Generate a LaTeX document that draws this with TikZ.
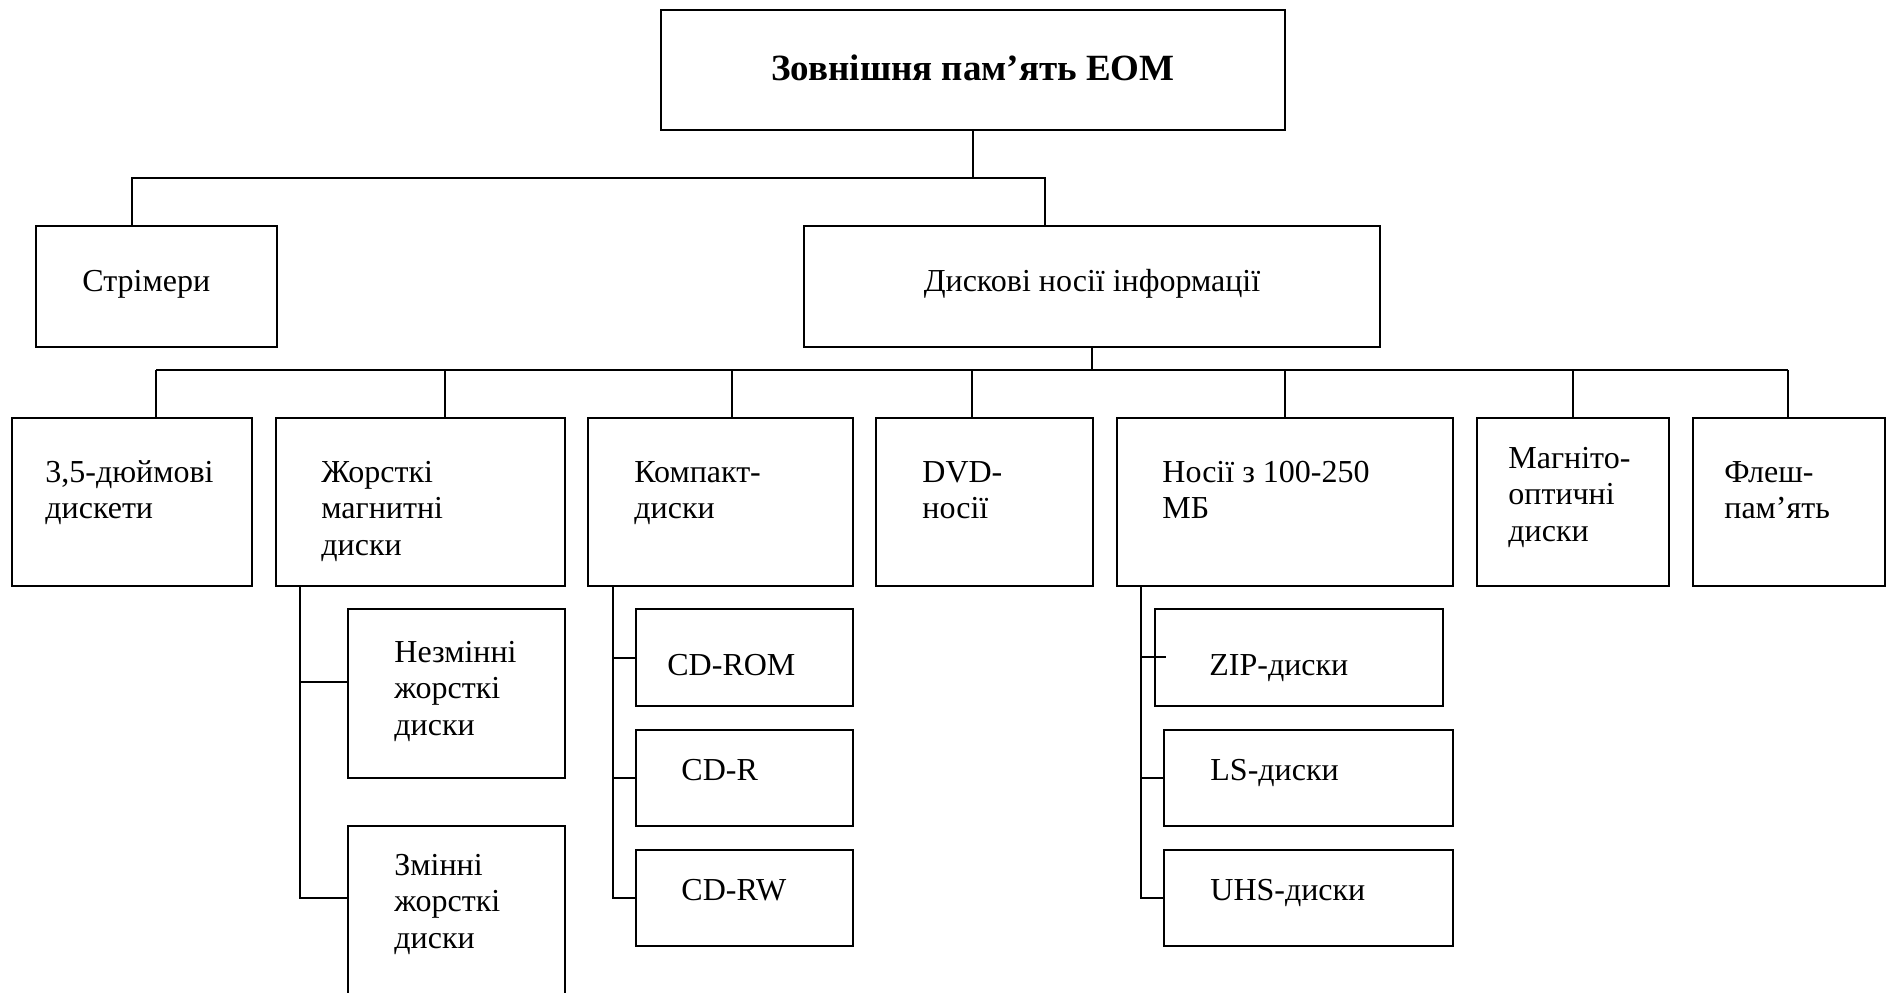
\documentclass[tikz,border=0pt]{standalone}
\usepackage{fontspec}
\setmainfont{Liberation Serif}
\usetikzlibrary{fit}
\tikzset{
  box/.style={draw, line width=1.1pt, inner sep=0pt},
  txt/.style={inner sep=0pt, align=left, font=\fontsize{16}{18.35}\selectfont},
  ttl/.style={inner sep=0pt, font=\fontsize{18.5}{20}\selectfont\bfseries},
  conn/.style={line width=1.1pt}
}
\newcommand\boxat[5]{\node[box, fit={(#2,#3) (#4,#5)}] (#1) {};}
\begin{document}
\begin{tikzpicture}[x=0.5pt,y=-0.5pt]
\useasboundingbox (0,0) rectangle (1887,992);
\clip (0,0) rectangle (1887,992);
% boxes
\boxat{top}{661}{10}{1285}{130}
\boxat{strim}{36}{226}{277}{347}
\boxat{disk}{804}{226}{1380}{347}
\boxat{b35}{12}{418}{252}{586}
\boxat{hard}{276}{418}{565}{586}
\boxat{cd}{588}{418}{853}{586}
\boxat{dvd}{876}{418}{1093}{586}
\boxat{hs}{1117}{418}{1453}{586}
\boxat{mo}{1477}{418}{1669}{586}
\boxat{flash}{1693}{418}{1885}{586}
\boxat{nez}{348}{609}{565}{778}
\boxat{zmin}{348}{826}{565}{1010}
\boxat{cdrom}{636}{609}{853}{706}
\boxat{cdr}{636}{730}{853}{826}
\boxat{cdrw}{636}{850}{853}{946}
\boxat{zip}{1155}{609}{1443}{706}
\boxat{ls}{1164}{730}{1453}{826}
\boxat{uhs}{1164}{850}{1453}{946}
% texts (base anchor = baseline of the last line)
\node[ttl, anchor=base] (t-top) at (973,80) {Зовнішня пам’ять ЕОМ};
\node[txt, anchor=base west] (t-strim) at (82,291) {Стрімери};
\node[txt, anchor=base] (t-disk) at (1092,291) {Дискові носії інформації};
\node[txt, anchor=base west] (t-b35) at (45,518.7) {3,5-дюймові\\дискети};
\node[txt, anchor=base west] (t-hard) at (321,555.4) {Жорсткі\\магнитні\\диски};
\node[txt, anchor=base west] (t-cd) at (634,518.7) {Компакт-\\диски};
\node[txt, anchor=base west] (t-dvd) at (922,518.7) {DVD-\\носії};
\node[txt, anchor=base west] (t-hs) at (1162,518.7) {Носії з 100-250\\МБ};
\node[txt, anchor=base west] (t-mo) at (1508,541.4) {Магніто-\\оптичні\\диски};
\node[txt, anchor=base west] (t-flash) at (1724,518.7) {Флеш-\\пам’ять};
\node[txt, anchor=base west] (t-nez) at (394,735.4) {Незмінні\\жорсткі\\диски};
\node[txt, anchor=base west] (t-zmin) at (394,948.4) {Змінні\\жорсткі\\диски};
\node[txt, anchor=base west] (t-cdrom) at (667,675) {CD-ROM};
\node[txt, anchor=base west] (t-cdr) at (681,780) {CD-R};
\node[txt, anchor=base west] (t-cdrw) at (681,900) {CD-RW};
\node[txt, anchor=base west] (t-zip) at (1209,675) {ZIP-диски};
\node[txt, anchor=base west] (t-ls) at (1210,780) {LS-диски};
\node[txt, anchor=base west] (t-uhs) at (1210,900) {UHS-диски};
% level 1 connectors
\coordinate (h1a) at (132,178);
\coordinate (h1b) at (1045,178);
\draw[conn] (top.south) -- (top.south |- h1a);
\draw[conn] (h1a |- strim.north) -- (h1a) -- (h1b) -- (h1b |- disk.north);
% level 2 bus
\coordinate (d1) at (156,370);
\coordinate (d2) at (445,370);
\coordinate (d3) at (732,370);
\coordinate (d4) at (972,370);
\coordinate (d5) at (1285,370);
\coordinate (d6) at (1573,370);
\coordinate (d7) at (1788,370);
\draw[conn] (disk.south) -- (disk.south |- d1);
\draw[conn] (d1) -- (d7);
\draw[conn] (d1) -- (d1 |- b35.north);
\draw[conn] (d2) -- (d2 |- hard.north);
\draw[conn] (d3) -- (d3 |- cd.north);
\draw[conn] (d4) -- (d4 |- dvd.north);
\draw[conn] (d5) -- (d5 |- hs.north);
\draw[conn] (d6) -- (d6 |- mo.north);
\draw[conn] (d7) -- (d7 |- flash.north);
% hard disks branch
\coordinate (hv) at (300,682);
\coordinate (hw) at (300,898);
\draw[conn] (hv |- hard.south) -- (hw) -- (hw -| zmin.west);
\draw[conn] (hv) -- (hv -| nez.west);
% compact disks branch
\coordinate (cv1) at (613,658);
\coordinate (cv2) at (613,778);
\coordinate (cv3) at (613,898);
\draw[conn] (cv1 |- cd.south) -- (cv3) -- (cv3 -| cdrw.west);
\draw[conn] (cv1) -- (cv1 -| cdrom.west);
\draw[conn] (cv2) -- (cv2 -| cdr.west);
% 100-250 MB branch
\coordinate (nv1) at (1141,657);
\coordinate (nv2) at (1141,778);
\coordinate (nv3) at (1141,898);
\coordinate (ztick) at (1166,657);
\draw[conn] (nv1 |- hs.south) -- (nv3) -- (nv3 -| uhs.west);
\draw[conn] (nv1) -- (ztick);
\draw[conn] (nv2) -- (nv2 -| ls.west);
\end{tikzpicture}
\end{document}
